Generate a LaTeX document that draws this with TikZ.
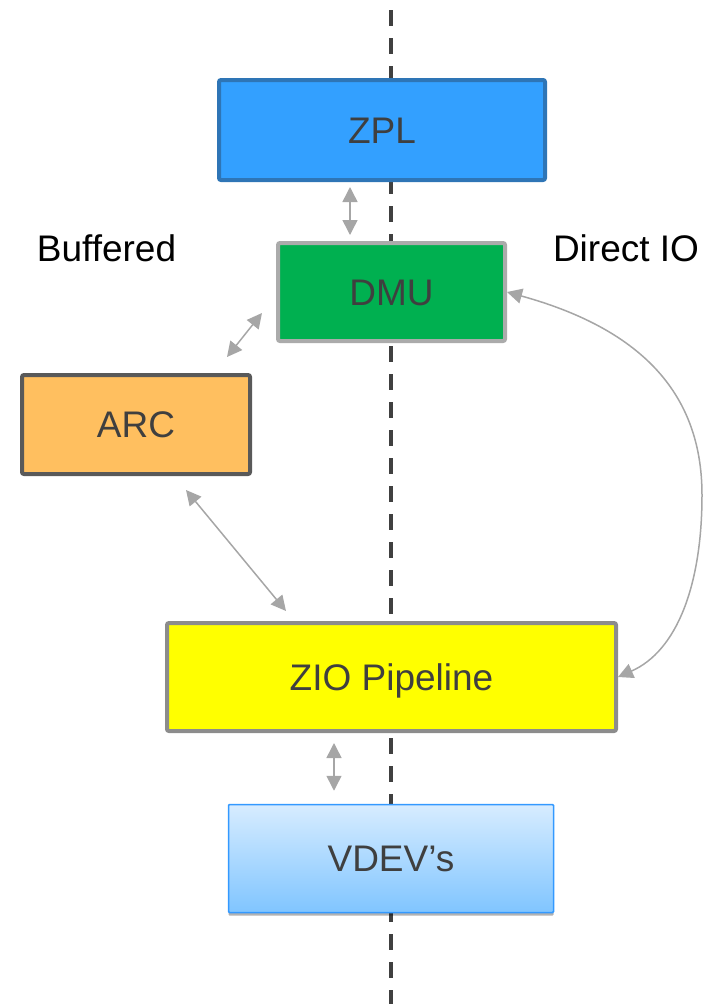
\documentclass[tikz,border=0pt]{standalone}
\usepackage{fontspec}
\setmainfont{Liberation Sans}
\usetikzlibrary{arrows.meta,shadows}

\definecolor{zplfill}{HTML}{33A0FF}
\definecolor{zplline}{HTML}{2E75B6}
\definecolor{dmufill}{HTML}{00B050}
\definecolor{dmuline}{HTML}{ABABAB}
\definecolor{arcfill}{HTML}{FFBF5F}
\definecolor{arcline}{HTML}{595959}
\definecolor{ziofill}{HTML}{FFFF00}
\definecolor{zioline}{HTML}{8C8C8C}
\definecolor{vdevtop}{HTML}{D7ECFF}
\definecolor{vdevbot}{HTML}{80C5FF}
\definecolor{vdevline}{HTML}{3399FF}
\definecolor{boxtext}{HTML}{3F3F3F}
\definecolor{linkgray}{HTML}{A6A6A6}
\definecolor{splitline}{HTML}{404040}

\tikzset{
  layer/.style={draw, rectangle, rounded corners=2pt, line width=4pt,
    text=boxtext, font=\fontsize{37}{44}\selectfont, inner sep=0pt,
    text height=26pt, text depth=0pt},
  sidelabel/.style={text=black, font=\fontsize{37}{44}\selectfont, inner sep=0pt, anchor=base},
  biarrow/.style={draw=linkgray, line width=1.5pt,
    {Triangle[length=15pt,width=15pt]}-{Triangle[length=15pt,width=15pt]}},
  split/.style={draw=splitline, line width=4pt, dash pattern=on 16pt off 12pt}
}

\begin{document}
\begin{tikzpicture}[x=1pt, y=-1pt]
  \useasboundingbox (0,0) rectangle (708,1004);

  % buffered / direct split
  \coordinate (top) at (391,10);
  \coordinate (bottom) at (391,1004);
  \draw[split] (top) -- (bottom);

  % layers
  \node[layer, fill=zplfill, draw=zplline, minimum width=326pt, minimum height=100pt]
    (zpl) at (382,130) {ZPL};
  \node[layer, fill=dmufill, draw=dmuline, minimum width=227pt, minimum height=98pt]
    (dmu) at (391.5,292) {DMU};
  \node[layer, fill=arcfill, draw=arcline, minimum width=228pt, minimum height=99pt]
    (arc) at (136,424.5) {ARC};
  \node[layer, fill=ziofill, draw=zioline, minimum width=449pt, minimum height=108pt]
    (zio) at (391.5,677) {ZIO Pipeline};
  \node[layer, line width=1.5pt, draw=vdevline, top color=vdevtop, bottom color=vdevbot,
    rounded corners=1pt, minimum width=325pt, minimum height=108pt,
    drop shadow={shadow xshift=0pt, shadow yshift=-3pt, opacity=0.3, fill=black}]
    (vdev) at (391,858.5) {VDEV’s};

  % side labels
  \node[sidelabel] (buffered) at (106.5,261) {Buffered};
  \node[sidelabel] (direct) at (626,261) {Direct IO};

  % data paths
  \draw[biarrow] ([xshift=-32pt,yshift=-5pt]zpl.south) -- ([xshift=-41.5pt,yshift=6pt]dmu.north);
  \draw[biarrow] ([xshift=-14pt,yshift=-21pt]dmu.west) -- ([xshift=91pt,yshift=16pt]arc.north);
  \draw[biarrow] ([xshift=50pt,yshift=-14pt]arc.south) -- ([xshift=-105.5pt,yshift=10pt]zio.north);
  \draw[biarrow] ([xshift=-57.5pt,yshift=-10pt]zio.south) -- ([xshift=-57pt,yshift=13pt]vdev.north);

  % direct IO path bypassing the ARC
  \coordinate (bend) at (702,495);
  \draw[biarrow] (dmu.east) .. controls (637,328) and (702,390) .. (bend)
    .. controls (702,585) and (677,651) .. (zio.east);
\end{tikzpicture}
\end{document}
